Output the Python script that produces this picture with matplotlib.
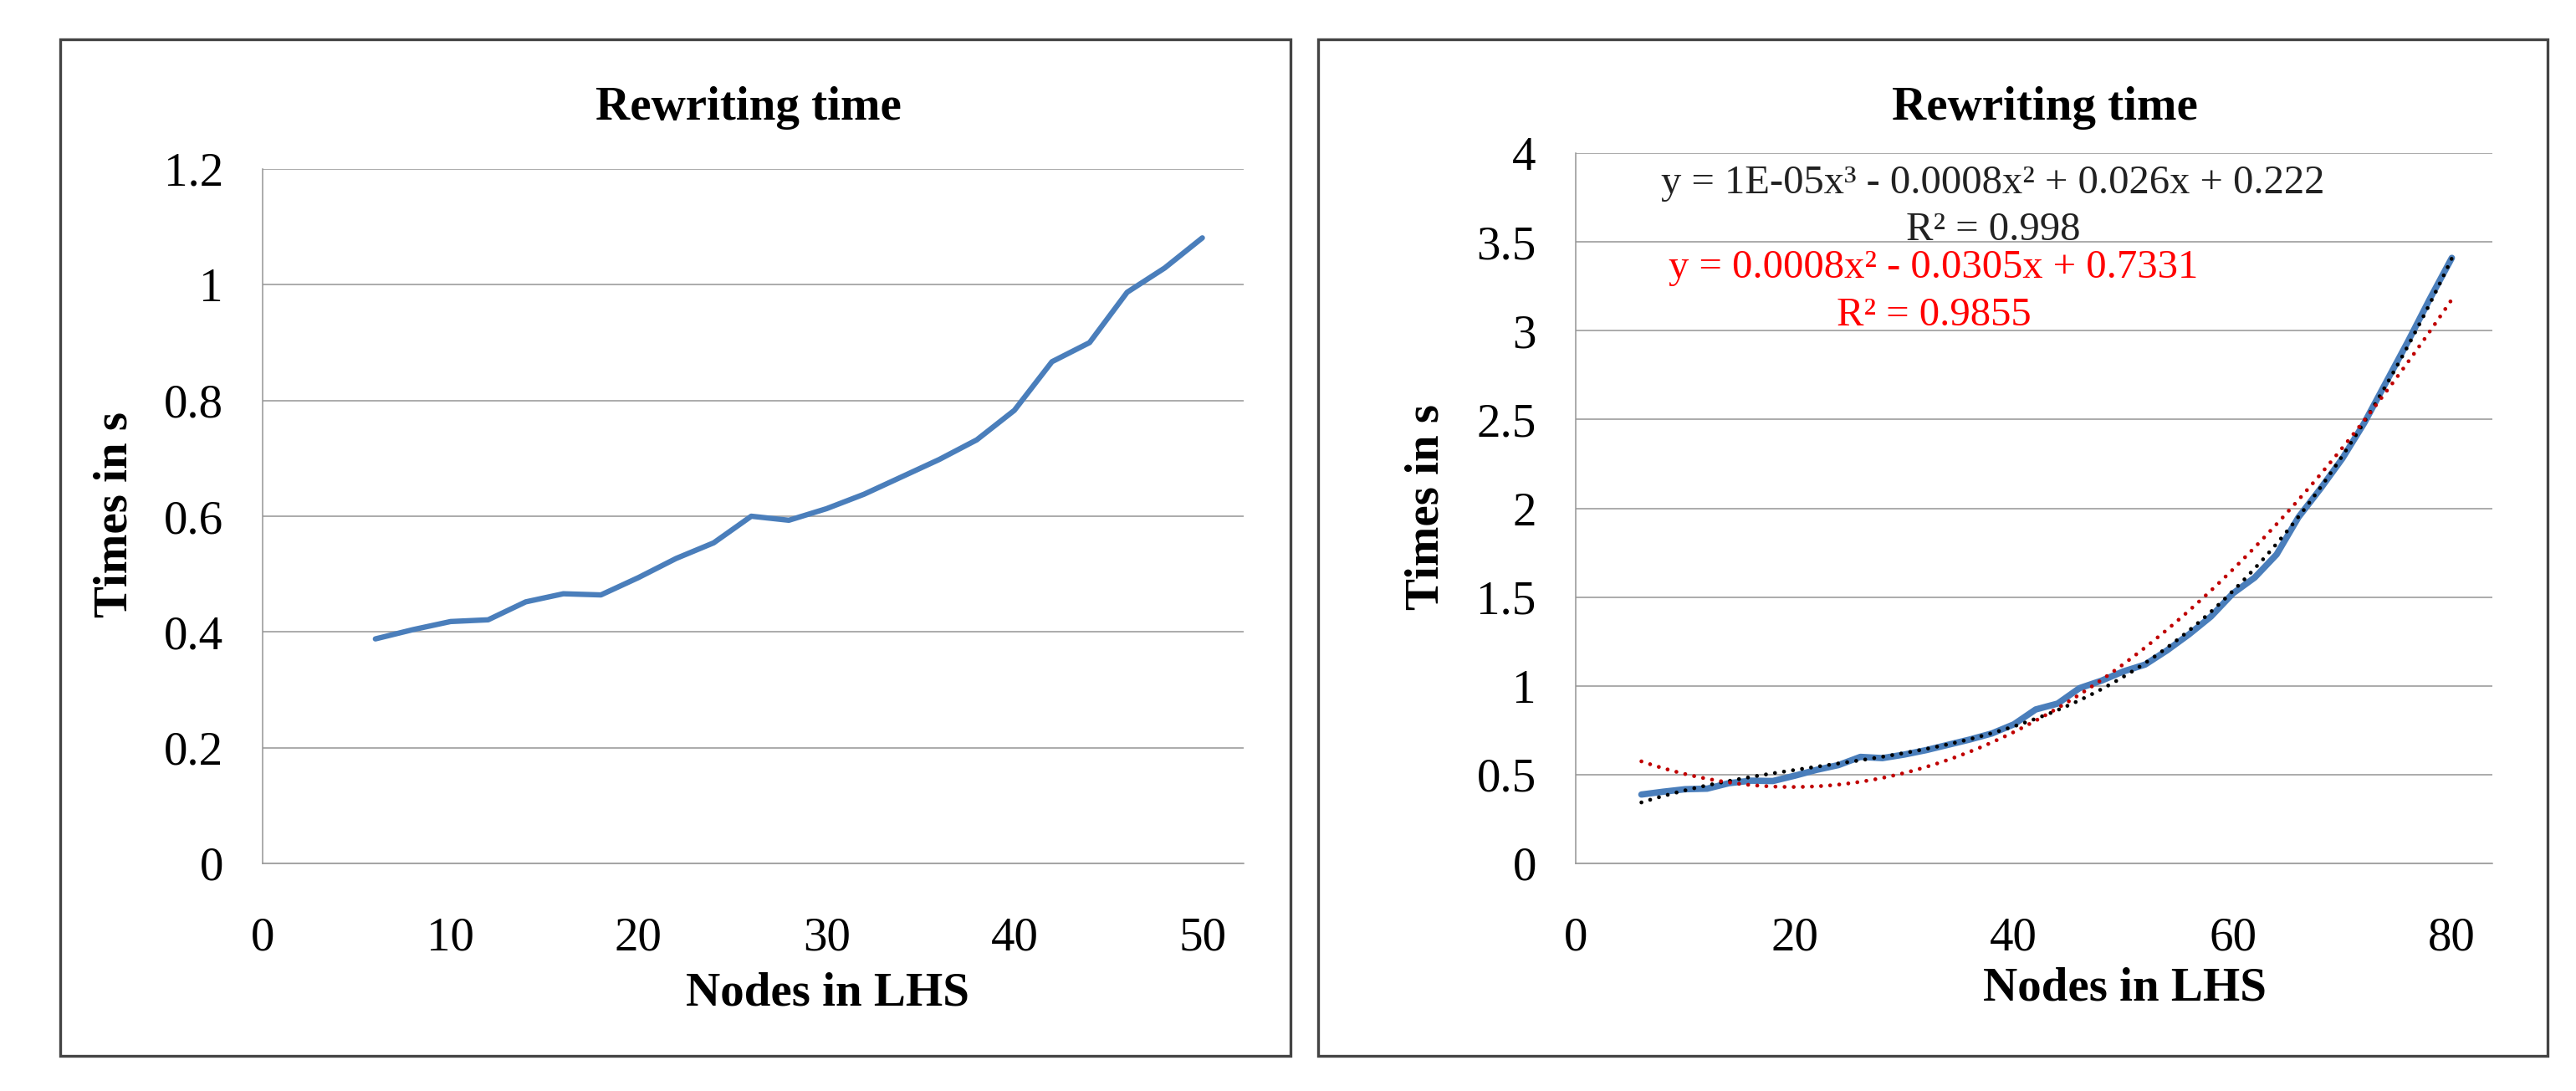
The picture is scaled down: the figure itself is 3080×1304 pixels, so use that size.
"""Rewriting time vs nodes in LHS: raw curve (left) and with polynomial trendlines (right)."""

import matplotlib

matplotlib.use("Agg")
import matplotlib.pyplot as plt  # noqa: E402
import numpy as np  # noqa: E402
from matplotlib.patches import Rectangle  # noqa: E402

plt.rcParams["font.family"] = ["Liberation Serif", "DejaVu Serif"]

# values
NODES = [6, 8, 10, 12, 14, 16, 18, 20, 22, 24, 26, 28, 30, 32, 34, 36, 38, 40, 42,
         44, 46, 48, 50, 52, 54, 56, 58, 60, 62, 64, 66, 68, 70, 72, 74, 76, 78, 80]
TIMES = [0.388, 0.404, 0.418, 0.421, 0.452, 0.466, 0.464, 0.494, 0.527, 0.554,
         0.600, 0.593, 0.613, 0.638, 0.668, 0.698, 0.732, 0.783, 0.867, 0.900,
         0.987, 1.029, 1.081, 1.12, 1.20, 1.29, 1.39, 1.52, 1.61, 1.74, 1.95,
         2.11, 2.28, 2.48, 2.71, 2.94, 3.18, 3.41]
LEFT_MAX_NODES = 50
LEFT_YTICKS = [0, 0.2, 0.4, 0.6, 0.8, 1, 1.2]
LEFT_XTICKS = [0, 10, 20, 30, 40, 50]
RIGHT_YTICKS = [0, 0.5, 1, 1.5, 2, 2.5, 3, 3.5, 4]
RIGHT_XTICKS = [0, 20, 40, 60, 80]
TITLE = "Rewriting time"
XLABEL = "Nodes in LHS"
YLABEL = "Times in s"
CUBIC_EQ = "y = 1E-05x³ - 0.0008x² + 0.026x + 0.222"
CUBIC_R2 = "R² = 0.998"
QUAD_EQ = "y = 0.0008x² - 0.0305x + 0.7331"
QUAD_R2 = "R² = 0.9855"

BLUE = "#4a7ebb"
GRID = "#959595"
FRAME = "#444444"
W, H = 3080, 1304


def fx(px):
    return px / W


def fy(px):
    return 1 - px / H


def style_axes(ax, yticks, xticks, ylim, xlim, ylab_pad):
    ax.set_ylim(*ylim)
    ax.set_xlim(*xlim)
    ax.set_yticks(yticks, [f"{t:g}" for t in yticks])
    ax.set_xticks(xticks, [str(t) for t in xticks])
    ax.grid(True, axis="y", color=GRID, linewidth=1.1)
    ax.set_axisbelow(True)
    ax.spines[["top", "right"]].set_visible(False)
    for side in ("left", "bottom"):
        ax.spines[side].set_color(GRID)
        ax.spines[side].set_linewidth(1.1)
    ax.tick_params(axis="y", length=0, pad=ylab_pad, labelsize=41)
    ax.tick_params(axis="x", length=0, pad=46, labelsize=41)


fig = plt.figure(figsize=(W / 100, H / 100), dpi=100)

# outer chart frames
for x0, x1 in ((72, 1543), (1576, 3046)):
    fig.patches.append(Rectangle((fx(x0), fy(1262)), fx(x1 - x0), (1262 - 47) / H,
                                 transform=fig.transFigure, fill=False,
                                 edgecolor=FRAME, linewidth=2.4))

x_all = np.array(NODES, dtype=float)
y_all = np.array(TIMES, dtype=float)
left_mask = x_all <= LEFT_MAX_NODES

# left panel
ax1 = fig.add_axes([fx(314), fy(1032), fx(1487 - 314), (1032 - 202) / H])
ax1.plot(x_all[left_mask], y_all[left_mask], color=BLUE, linewidth=4.6,
         solid_joinstyle="round", solid_capstyle="round")
style_axes(ax1, LEFT_YTICKS, LEFT_XTICKS, (0, 1.2), (0, 52.2), 34)
fig.text(fx(895), fy(129), TITLE, ha="center", va="center", fontsize=41, fontweight="bold")
fig.text(fx(989), fy(1188), XLABEL, ha="center", va="center", fontsize=41, fontweight="bold")
fig.text(fx(138), fy(615), YLABEL, ha="center", va="center", fontsize=41,
         fontweight="bold", rotation=90)

# right panel with fitted trendlines
ax2 = fig.add_axes([fx(1884), fy(1032), fx(2980 - 1884), (1032 - 183) / H])
ax2.plot(x_all, y_all, color=BLUE, linewidth=5.5,
         solid_joinstyle="round", solid_capstyle="round", zorder=3)
xs = np.linspace(x_all.min(), x_all.max(), 300)
cubic = np.polyval(np.polyfit(x_all, y_all, 3), xs)
quad = np.polyval(np.polyfit(x_all, y_all, 2), xs)
dots = (0, (0.01, 2.3))
ax2.plot(xs, cubic, color="black", linewidth=3.4, linestyle=dots,
         dash_capstyle="round", zorder=4)
ax2.plot(xs, quad, color="#c00000", linewidth=3.4, linestyle=dots,
         dash_capstyle="round", zorder=4)
style_axes(ax2, RIGHT_YTICKS, RIGHT_XTICKS, (0, 4), (0, 83.7), 34)
fig.text(fx(2445), fy(129), TITLE, ha="center", va="center", fontsize=41, fontweight="bold")
fig.text(fx(2540), fy(1182), XLABEL, ha="center", va="center", fontsize=41, fontweight="bold")
fig.text(fx(1705), fy(606), YLABEL, ha="center", va="center", fontsize=41,
         fontweight="bold", rotation=90)

fig.text(fx(2383), fy(219), CUBIC_EQ, ha="center", va="center", fontsize=35, color="#222222")
fig.text(fx(2383), fy(275), CUBIC_R2, ha="center", va="center", fontsize=35, color="#222222")
fig.text(fx(2312), fy(320), QUAD_EQ, ha="center", va="center", fontsize=35, color="#ff0000")
fig.text(fx(2312), fy(377), QUAD_R2, ha="center", va="center", fontsize=35, color="#ff0000")

fig.savefig("out.png", dpi=100, facecolor="white")
